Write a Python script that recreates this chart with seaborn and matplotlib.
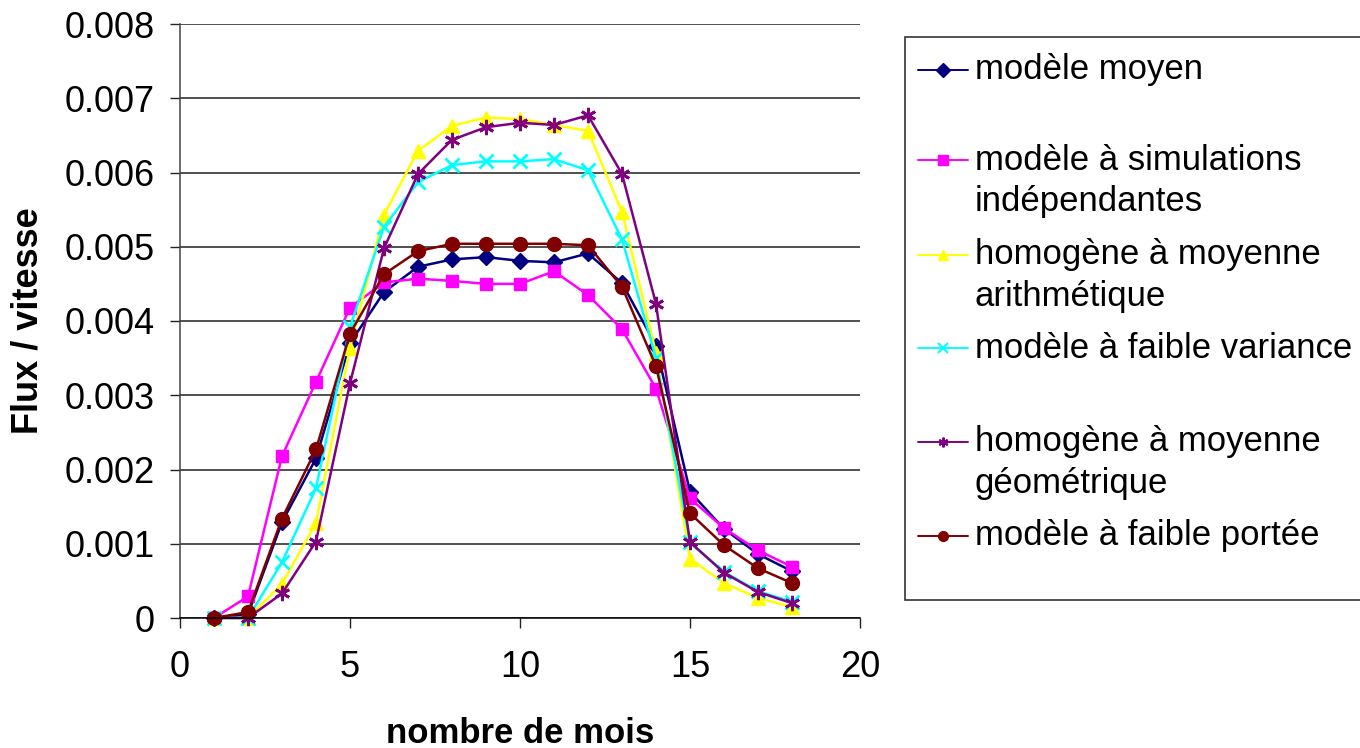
import numpy as np
import pandas as pd
import matplotlib
matplotlib.use("Agg")
import matplotlib.pyplot as plt
from matplotlib.lines import Line2D
from matplotlib.patches import Rectangle
import seaborn as sns

# ---- data ----
mois = list(range(1, 19))
moyen = [0.0, 0.00005, 0.00129, 0.00215, 0.00370, 0.00439, 0.00473, 0.00483, 0.00486,
         0.00481, 0.00479, 0.00491, 0.00451, 0.00367, 0.00170, 0.00120, 0.00086, 0.00063]
simul = [0.0, 0.00029, 0.00218, 0.00318, 0.00418, 0.00452, 0.00457, 0.00454, 0.00450,
         0.00450, 0.00467, 0.00435, 0.00389, 0.00309, 0.00161, 0.00121, 0.00091, 0.00069]
arith = [0.0, 0.0, 0.00046, 0.00128, 0.00364, 0.00543, 0.00629, 0.00663, 0.00674,
         0.00672, 0.00664, 0.00656, 0.00547, 0.00357, 0.00080, 0.00047, 0.00027, 0.00015]
variance = [0.0, 0.0, 0.00075, 0.00175, 0.00392, 0.00527, 0.00587, 0.00610, 0.00615,
            0.00615, 0.00618, 0.00603, 0.00510, 0.00350, 0.00102, 0.00062, 0.00036, 0.00022]
geom = [0.0, 0.0, 0.00033, 0.00103, 0.00316, 0.00498, 0.00598, 0.00644, 0.00661,
        0.00667, 0.00664, 0.00677, 0.00598, 0.00423, 0.00102, 0.00061, 0.00035, 0.00020]
portee = [0.0, 0.00008, 0.00134, 0.00227, 0.00383, 0.00463, 0.00494, 0.00504, 0.00504,
          0.00504, 0.00504, 0.00502, 0.00446, 0.00339, 0.00141, 0.00098, 0.00067, 0.00047]

series_names = ["modèle moyen", "modèle à simulations\nindépendantes",
                "homogène à moyenne\narithmétique", "modèle à faible variance",
                "homogène à moyenne\ngéométrique", "modèle à faible portée"]
series_values = [moyen, simul, arith, variance, geom, portee]
colors = ["#000080", "#FF00FF", "#FFFF00", "#00FFFF", "#800080", "#800000"]
markers = ["D", "s", "^", "x", (6, 2, 0), "o"]
msizes = [8, 9, 10, 10, 11, 10]

xticks = [0, 5, 10, 15, 20]
yticks = [0, 0.001, 0.002, 0.003, 0.004, 0.005, 0.006, 0.007, 0.008]
ytick_labels = ["0", "0.001", "0.002", "0.003", "0.004", "0.005", "0.006", "0.007", "0.008"]

sns.set_theme(style="white")
plt.rcParams['font.family'] = ['Liberation Sans', 'DejaVu Sans']
for k in ["text.color", "axes.labelcolor", "xtick.color", "ytick.color"]:
    plt.rcParams[k] = "black"

fig = plt.figure(figsize=(13.6, 7.48), dpi=100)
ax = fig.add_axes([180/1360, 1-618/748, 680/1360, 594/748])

for name, vals, c, m, ms in zip(series_names, series_values, colors, markers, msizes):
    df = pd.DataFrame({"mois": mois, "val": vals})
    mew = 2 if m == "x" or isinstance(m, tuple) else 1
    sns.lineplot(data=df, x="mois", y="val", ax=ax, color=c, marker=m,
                 markersize=ms, markeredgecolor=c, markerfacecolor=c,
                 markeredgewidth=mew, linewidth=1.8, legend=False, clip_on=False)

ax.set_xlim(0, 20)
ax.set_ylim(0, 0.008)
ax.set_xticks(xticks)
ax.set_xticklabels([str(t) for t in xticks])
ax.set_yticks(yticks)
ax.set_yticklabels(ytick_labels)
ax.tick_params(axis="both", labelsize=26, length=7, width=1, color="#222222",
               labelcolor="black", direction="out", bottom=True, left=True)
ax.tick_params(axis="y", pad=11)
ax.tick_params(axis="x", pad=16)
ax.grid(axis="y", color="#202020", linewidth=1.1)
ax.grid(axis="x", visible=False)
ax.set_axisbelow(True)
for s in ["top", "right"]:
    ax.spines[s].set_visible(False)
ax.spines["left"].set_color("#444444")
ax.spines["bottom"].set_color("#000000")
ax.spines["left"].set_linewidth(1.1)
ax.spines["bottom"].set_linewidth(1.1)

ax.set_xlabel("nombre de mois", fontsize=25, fontweight="bold", labelpad=23,
              color="black")
ax.set_ylabel("Flux / vitesse", fontsize=26, fontweight="bold", labelpad=14,
              color="black")

# ---- legend (drawn in figure coordinates) ----
W, H = 1360, 748
fig.add_artist(Rectangle((905/W, 1-600/H), 470/W, 563/H, transform=fig.transFigure,
                         facecolor="white", edgecolor="#333333", linewidth=1.2,
                         clip_on=False))
entry_y = [70, 160, 255, 348, 442, 536]
for name, c, m, y in zip(series_names, colors, markers, entry_y):
    yf = 1 - y/H
    fig.add_artist(Line2D([918/W, 968/W], [yf, yf], transform=fig.transFigure,
                          color=c, linewidth=1.4))
    mew = 1.5 if m == "x" or isinstance(m, tuple) else 1
    fig.add_artist(Line2D([943/W], [yf], transform=fig.transFigure, color=c,
                          marker=m, markersize=7, markeredgecolor=c,
                          markerfacecolor=c, markeredgewidth=mew, linestyle="none"))
    lines = name.split("\n")
    for i, ln in enumerate(lines):
        fig.text(975/W, 1 - (y + 42*i)/H, ln, fontsize=25, va="center", ha="left",
                 color="black")

fig.savefig("out.png", dpi=100)
